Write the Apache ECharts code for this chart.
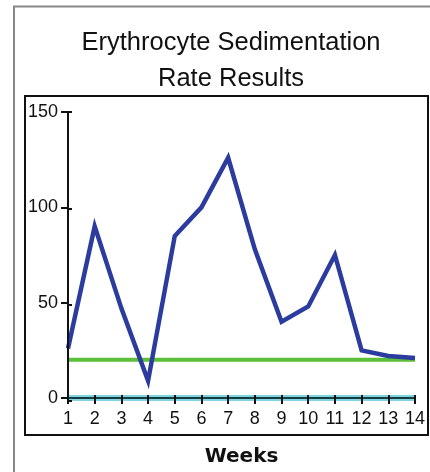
<!DOCTYPE html>
<html>
<head>
<meta charset="utf-8">
<script src="https://cdn.jsdelivr.net/npm/echarts@6/dist/echarts.min.js"></script>
<style>
html,body{margin:0;padding:0;background:#fff;}
#chart{width:430px;height:472px;}
</style>
</head>
<body>
<div id="chart"></div>
<script>
var weeks = [1, 2, 3, 4, 5, 6, 7, 8, 9, 10, 11, 12, 13, 14];
var esrValues = [26, 90, 47, 9, 85, 100, 126, 78, 40, 48, 75, 25, 22, 21];
var normalLimit = [20, 20, 20, 20, 20, 20, 20, 20, 20, 20, 20, 20, 20, 20];
var baseline = [0, 0, 0, 0, 0, 0, 0, 0, 0, 0, 0, 0, 0, 0];
var yTicks = [0, 50, 100, 150];

function pairs(vals) { return weeks.map(function (w, i) { return [w, vals[i]]; }); }

var chart = echarts.init(document.getElementById('chart'), null, {renderer: 'canvas'});
var font = 'Liberation Sans, Arial, sans-serif';
var grid = {left: 68, right: 15, top: 112, bottom: 71};
chart.setOption({
  backgroundColor: '#fff',
  animation: false,
  title: {
    text: 'Erythrocyte Sedimentation\nRate Results',
    left: 226, top: 20, textAlign: 'center',
    textStyle: {fontFamily: font, fontSize: 25.5, fontWeight: 'normal', color: '#111', lineHeight: 36}
  },
  graphic: [
    {type: 'polyline', shape: {points: [[14, 472], [14, 6.5], [430, 6.5]]}, style: {stroke: '#888', lineWidth: 2, fill: null}, silent: true},
    {type: 'rect', shape: {x: 25, y: 96, width: 403, height: 339}, style: {stroke: '#111', lineWidth: 2, fill: null}, silent: true}
  ],
  grid: [grid, grid],
  xAxis: [{
    type: 'value', min: 1, max: 14, interval: 1, gridIndex: 0, z: 10,
    axisLine: {show: true, lineStyle: {color: '#163e42', width: 2}},
    axisTick: {show: true, length: 6, lineStyle: {color: '#111', width: 2}},
    axisLabel: {fontFamily: font, fontSize: 18, color: '#111', margin: 12},
    splitLine: {show: false},
    name: 'Weeks', nameLocation: 'middle', nameGap: 49,
    nameTextStyle: {fontFamily: 'DejaVu Sans, sans-serif', fontSize: 20, fontWeight: 'bold', color: '#111'}
  }, {
    type: 'value', min: 1, max: 14, interval: 1, gridIndex: 1, position: 'bottom', z: 10,
    axisLine: {show: false},
    axisTick: {show: true, inside: true, length: 6, lineStyle: {color: '#111', width: 2}},
    axisLabel: {show: false}, splitLine: {show: false}
  }],
  yAxis: [{
    type: 'value', min: yTicks[0], max: yTicks[yTicks.length - 1], interval: 50, gridIndex: 0, z: 10,
    axisLine: {show: true, lineStyle: {color: '#111', width: 2}},
    axisTick: {show: true, length: 7, lineStyle: {color: '#111', width: 2}},
    axisLabel: {fontFamily: font, fontSize: 18, color: '#111', margin: 10},
    splitLine: {show: false}
  }, {
    type: 'value', min: yTicks[0], max: yTicks[yTicks.length - 1], interval: 50, gridIndex: 1, position: 'left', z: 10,
    axisLine: {show: false},
    axisTick: {show: true, inside: true, length: 4, lineStyle: {color: '#111', width: 2}},
    axisLabel: {show: false}, splitLine: {show: false}
  }],
  series: [
    {type: 'line', data: pairs(baseline), xAxisIndex: 0, yAxisIndex: 0, symbol: 'none', z: 1,
     lineStyle: {color: '#7fd4de', width: 6}},
    {type: 'line', data: pairs(normalLimit), xAxisIndex: 0, yAxisIndex: 0, symbol: 'none', z: 3,
     lineStyle: {color: '#5cbf3a', width: 4}},
    {type: 'line', data: pairs(esrValues), xAxisIndex: 0, yAxisIndex: 0, symbol: 'none', z: 4,
     lineStyle: {color: '#2c3c9e', width: 4.5, join: 'miter'}}
  ]
});
</script>
</body>
</html>
